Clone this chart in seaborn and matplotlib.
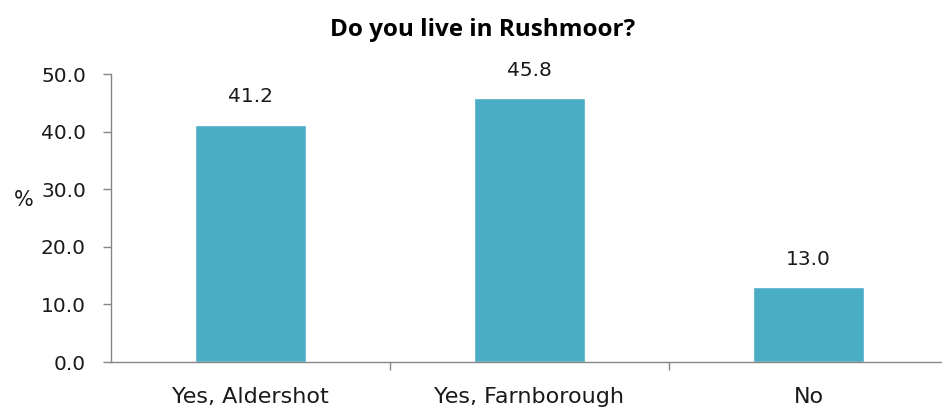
import matplotlib
matplotlib.use("Agg")
import matplotlib.pyplot as plt
import seaborn as sns
import pandas as pd
import numpy as np

categories = ["Yes, Aldershot", "Yes, Farnborough", "No"]
values = [41.2, 45.8, 13.0]
yticks = [0.0, 10.0, 20.0, 30.0, 40.0, 50.0]

sns.set_theme(style="white")
plt.rcParams['font.family'] = ['DejaVu Sans']

df = pd.DataFrame({"cat": categories, "val": values})

fig = plt.figure(figsize=(9.42, 4.07), dpi=100)
ax = fig.add_axes([111/942, 1-362/407, 837/942, (362-74)/407])
sns.barplot(data=df, x="cat", y="val", color="#4BACC6", width=0.4, saturation=1, ax=ax)

txt = "#1a1a1a"
ax.set_xlim(-0.5, 2.5)
ax.set_ylim(0, 50)
ax.set_yticks(yticks)
ax.set_yticklabels([f"{t:.1f}" for t in yticks], fontsize=14.5, color=txt)
ax.set_xticks([0, 1, 2])
ax.set_xticklabels(categories, fontsize=16, color=txt)
ax.tick_params(axis="x", length=0, pad=18)
ax.set_xticks([0.5, 1.5], minor=True)
ax.tick_params(axis="x", which="minor", length=6, color="#868686", width=1, direction="out", bottom=True)
ax.tick_params(axis="y", length=6, color="#868686", width=1, direction="out", left=True, pad=12)

for s in ["top", "right"]:
    ax.spines[s].set_visible(False)
for s in ["left", "bottom"]:
    ax.spines[s].set_color("#868686")
    ax.spines[s].set_linewidth(1)

for i, v in enumerate(values):
    ax.annotate(f"{v:.1f}", (i, v), xytext=(0, 16), textcoords="offset points",
                ha="center", va="baseline", fontsize=14.5, color=txt)

ax.set_xlabel("")
ax.set_ylabel("%", rotation=0, fontsize=15, color=txt)
ax.yaxis.set_label_coords(-0.104, 0.5625)
ax.yaxis.label.set_verticalalignment("center")
ax.yaxis.label.set_horizontalalignment("center")

fig.text(483/942, 1-30/407, "Do you live in Rushmoor?", ha="center", va="center",
         fontsize=17.5, fontweight="bold", family="Open Sans", color="black")

fig.savefig("out.png", dpi=100)
